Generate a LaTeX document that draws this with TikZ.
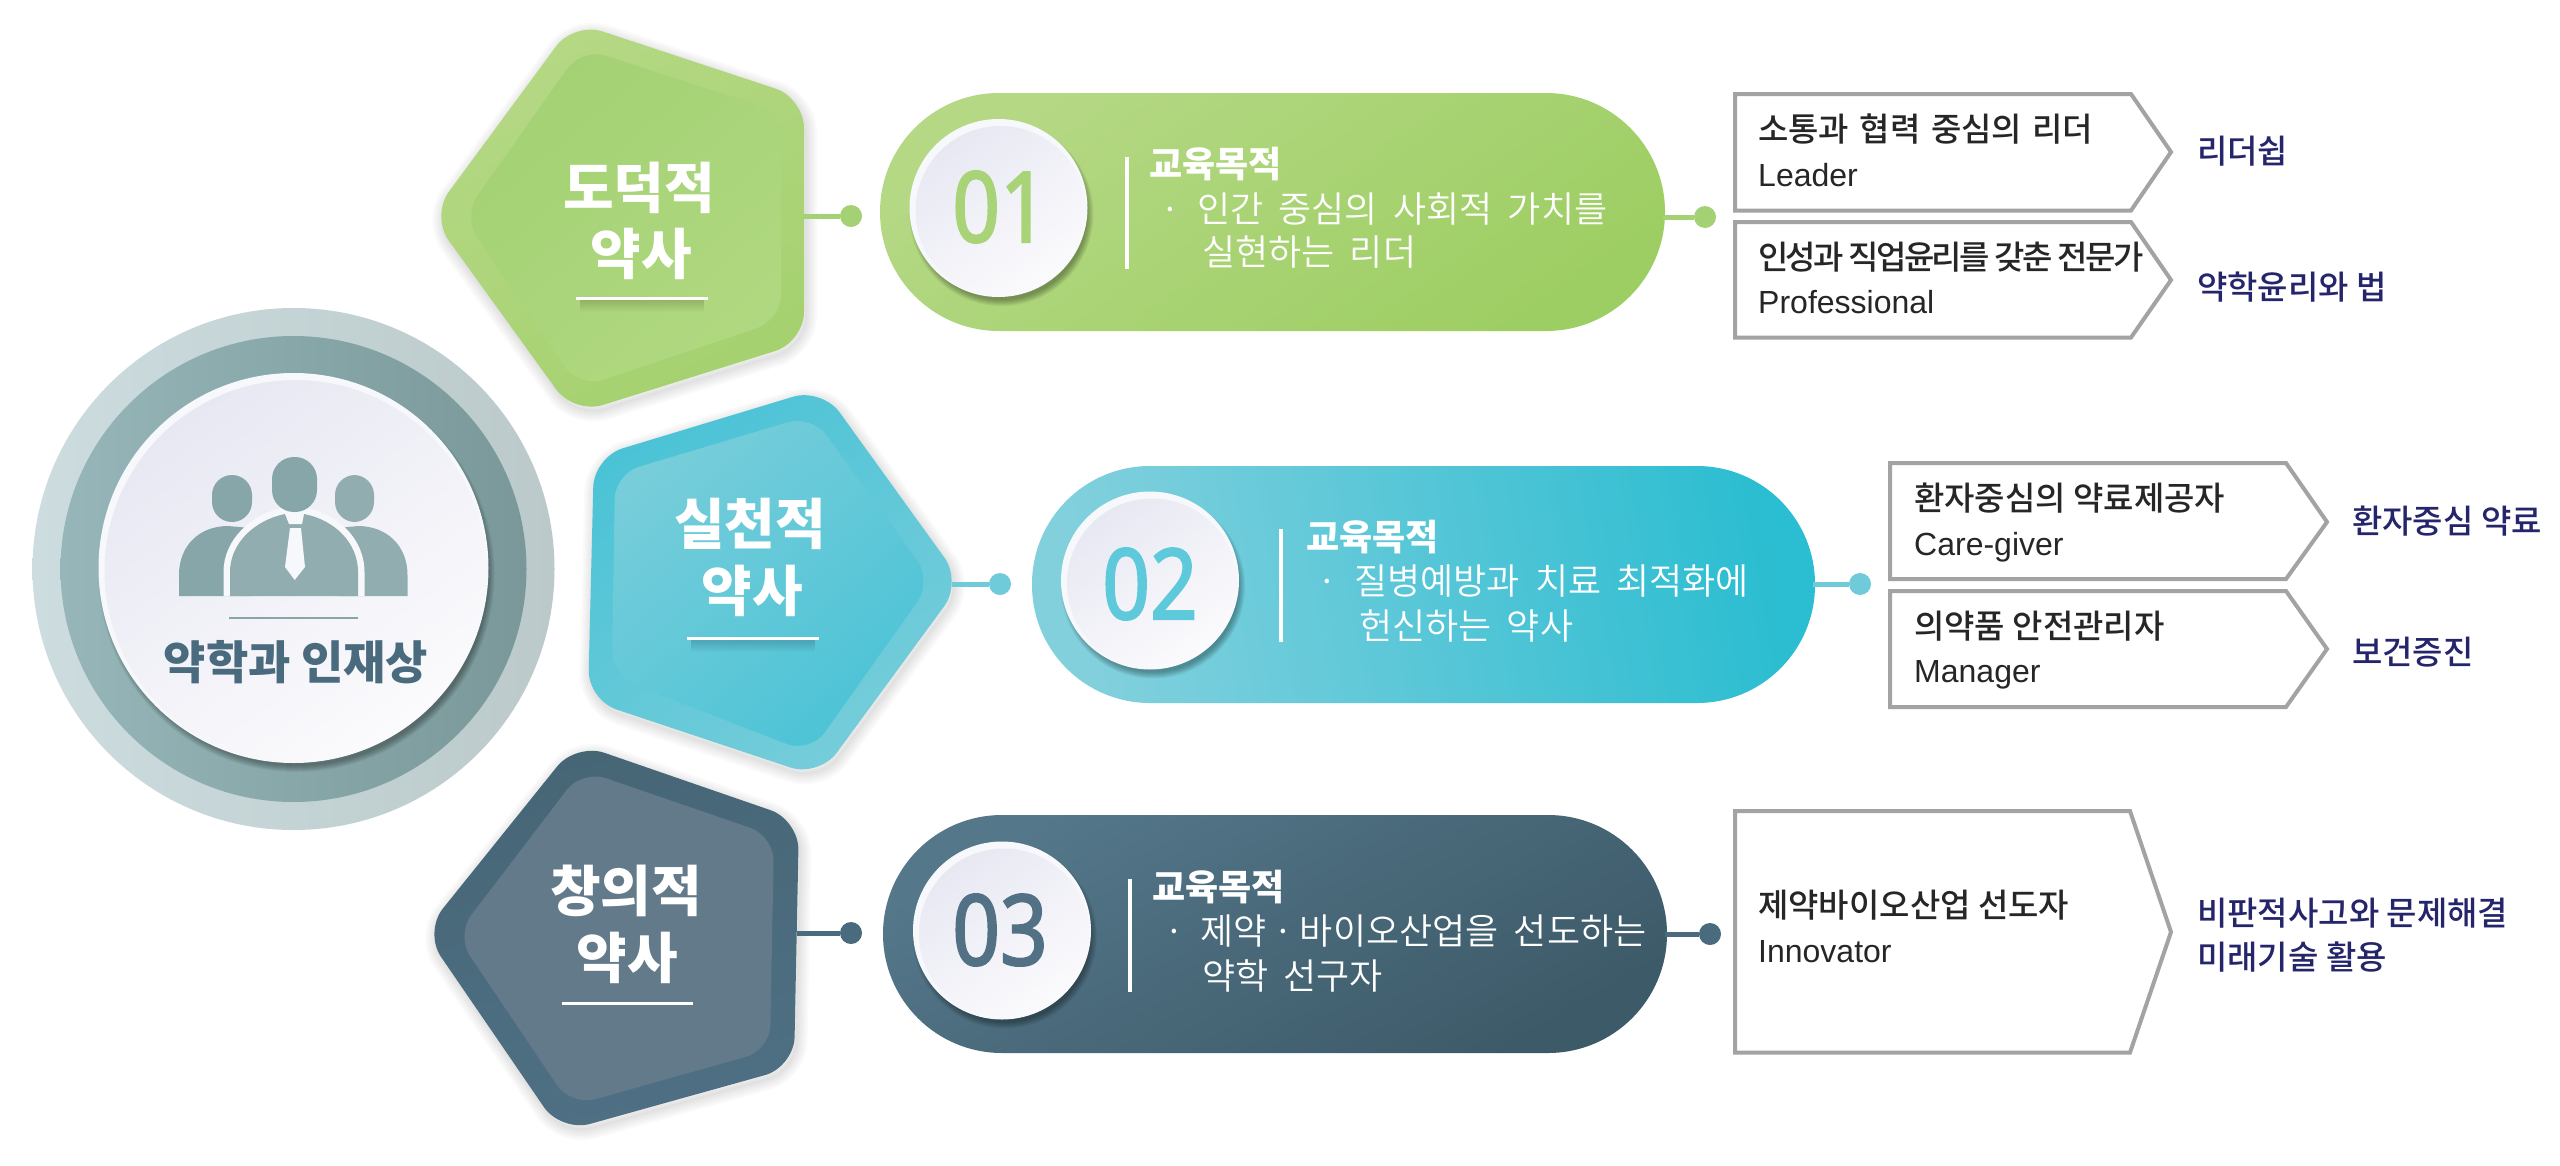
\documentclass[tikz,border=0pt]{standalone}
\usepackage{fontspec}
\setmainfont{Liberation Sans}
\newfontfamily\kr{Noto Sans CJK KR}
\newfontfamily\krmed{Noto Sans CJK KR Medium}
\newfontfamily\krlight[WordSpace=1.9]{Noto Sans CJK KR DemiLight}
\newfontfamily\numfont[FakeStretch=.85,FakeBold=2]{Noto Sans}
\definecolor{gA}{HTML}{A9D377}
\definecolor{tA}{HTML}{6FCBD9}
\definecolor{nA}{HTML}{4A6A7E}
\definecolor{navyt}{HTML}{25256B}
\definecolor{boxg}{HTML}{A3A3A3}
\definecolor{ring}{HTML}{87A6A9}
\definecolor{discrim}{HTML}{F7F8FB}
\definecolor{discA}{HTML}{E8E8F3}
\definecolor{discB}{HTML}{FBFBFD}
\tikzset{
  title/.style={inner sep=0pt,anchor=base,text=white,font={\fontsize{55}{55}\selectfont\kr\bfseries}},
  goal/.style={inner sep=0pt,anchor=base west,text=white,font={\fontsize{36}{36}\selectfont\kr\bfseries}},
  body/.style={inner sep=0pt,anchor=base west,text=white,font={\fontsize{36}{36}\selectfont\krlight}},
  boxkr/.style={inner sep=0pt,anchor=base west,text=black!85,font={\fontsize{33}{33}\selectfont\krmed}},
  boxen/.style={inner sep=0pt,anchor=base west,text=black!85,font={\fontsize{32}{32}\selectfont}},
  skill/.style={inner sep=0pt,anchor=base west,text=navyt,font={\fontsize{33}{33}\selectfont\krmed}},
  numtext/.style={inner sep=0pt,font={\fontsize{98}{98}\selectfont\numfont}},
  arrowbox/.style={draw=boxg,line width=4,fill=white,miter limit=10},
  dotnode/.style={circle,inner sep=0pt,minimum size=22pt},
  conn/.style={line width=5},
}
\newcommand{\softshadow}[3]{\foreach \w in {2,6,10,14,18,22}{\draw[black,opacity=.018,line width=\w,line join=round,shift={(#2,#3)}] #1;}}
\newcommand{\whitedisc}[3]{%
  \foreach \q in {1,...,7}{\fill[black,opacity=.05,shift={(3,6)}] (#1,#2) circle ({#3+4-\q});}
  \fill[discrim] (#1,#2) circle (#3);
  \shade[top color=discA,bottom color=discB,shading angle=35] ({#1+2},{#2+3}) circle ({#3-4});
}
\begin{document}
\begin{tikzpicture}[x=1pt,y=-1pt]
\path[use as bounding box,fill=white] (0,0) rectangle (2560,1165);
% central circle
\coordinate (mainc) at (293.5,569);
\definecolor{rO1}{HTML}{CDDDDF}\definecolor{rO2}{HTML}{BBC9CA}
\definecolor{rM1}{HTML}{96B6B9}\definecolor{rM2}{HTML}{7A9899}
\shade[left color=rO1,right color=rO2] (mainc) circle (261);
\shade[left color=rM1,right color=rM2] (mainc) circle (233);
\whitedisc{293.5}{568}{195}
\fill[ring] (179,596) -- (179,575) .. controls (179,545) and (200,526) .. (228,526) -- (250,528) -- (250,596) -- cycle;
\fill[ring!92!white] (407.5,596) -- (407.5,575) .. controls (407.5,545) and (386,526) .. (358,526) -- (338,528) -- (338,596) -- cycle;
\draw[discrim,line width=13] (230,596) -- (230,572) .. controls (230,543) and (255,520) .. (285,514) -- (304,514) .. controls (335,520) and (358,543) .. (358,572) -- (358,596);
\fill[ring!92!white] (230,596) -- (230,572) .. controls (230,543) and (255,520) .. (285,514) -- (304,514) .. controls (335,520) and (358,543) .. (358,572) -- (358,596) -- cycle;
\fill[discrim] (285,514) -- (304,514) -- (302,524) -- (289,524) -- cycle;
\fill[discrim] (290,528) -- (301,528) -- (305,567) -- (294.7,580) -- (285,567) -- cycle;
\fill[ring,rounded corners=20] (212,475) rectangle (252,522);
\fill[ring!92!white,rounded corners=20] (335,475) rectangle (374,522);
\fill[ring,rounded corners=22] (272,457) rectangle (317,512);
\draw[ring,line width=2.5] (229,618) -- (358,618);
\node[inner sep=0pt,anchor=base,text=nA,font={\fontsize{46}{46}\selectfont\kr\bfseries}] (maintitle) at (296,679) {약학과 인재상};

% ---- row 1
\definecolor{gO1}{HTML}{B5D885}\definecolor{gO2}{HTML}{A5D16F}
\definecolor{gI1}{HTML}{A3D173}\definecolor{gI2}{HTML}{B0D880}
\definecolor{gP2}{HTML}{9DCE63}
\def\pA{[rounded corners=30] (574,22) -- (804,98) -- (804,342) -- (574,414) -- (431,216) -- cycle}
\def\pAi{[rounded corners=25] (582,48) -- (781,113) -- (781,320) -- (579,388) -- (463,216) -- cycle}
\softshadow{\pA}{2}{4}
\shade[top color=gO1,bottom color=gO2,shading angle=30] \pA;
\shade[top color=gI1,bottom color=gI2,shading angle=40] \pAi;
\coordinate (pentAr) at (804,216);
\node[dotnode,fill=gI1] (dotAl) at (851,216) {};
\draw[conn,gI1] (pentAr) -- (dotAl);
\node[title] (tA1) at (639,208) {도덕적};
\node[title] (tA2) at (641,274) {약사};
\foreach \q in {2,...,12}{\fill[black,opacity=.012] (580,300) rectangle (704,{300+\q});}
\draw[white,line width=3] (576,298) -- (708,298);
\shade[top color=gO1,bottom color=gP2,shading angle=35,rounded corners=119] (880,93) rectangle (1665,331);
\whitedisc{998.5}{208}{89}
\node[numtext,text=gA] (numA) at (1000,207) {01};
\draw[white,line width=4] (1127,157) -- (1127,269);
\node[goal] (gA) at (1149,177) {교육목적};
\node[body] (bA1) at (1160,222) {\makebox[37pt][l]{·}인간 중심의 사회적 가치를};
\node[body] (bA2) at (1202,265) {실현하는 리더};
\coordinate (pillAr) at (1663,217);
\node[dotnode,fill=gI1] (dotAr) at (1705,217) {};
\draw[conn,gI1] (pillAr) -- (dotAr);
\draw[arrowbox] (1735,94) -- (2131,94) -- (2171,152) -- (2131,210.5) -- (1735,210.5) -- cycle;
\node[boxkr] (lA1) at (1758,141) {\spaceskip=10.5pt 소통과 협력 중심의 리더};
\node[boxen] (lA1e) at (1758,186) {Leader};
\node[skill] (sA1) at (2197,163) {리더쉽};
\draw[arrowbox] (1735,222) -- (2131,222) -- (2171,280) -- (2131,337.5) -- (1735,337.5) -- cycle;
\node[boxkr] (lA2) at (1758,269) {\addfontfeature{LetterSpace=-8}인성과 직업윤리를 갖춘 전문가};
\node[boxen] (lA2e) at (1758,313) {Professional};
\node[skill] (sA2) at (2197,299) {약학윤리와 법};

% ---- row 2
\definecolor{tO1}{HTML}{4BC3D6}\definecolor{tO2}{HTML}{77CDDA}
\definecolor{tP1}{HTML}{83D0DD}\definecolor{tP2}{HTML}{2BBDD1}
\def\pB{[rounded corners=30] (822,388) -- (962,582) -- (819,777) -- (588,700) -- (594,457) -- cycle}
\def\pBi{[rounded corners=25] (812,415) -- (932,581) -- (810,753) -- (612,676) -- (615,474) -- cycle}
\softshadow{\pB}{2}{4}
\shade[top color=tO1,bottom color=tO2,shading angle=35] \pB;
\shade[top color=tO2,bottom color=tO1,shading angle=40] \pBi;
\coordinate (pentBr) at (952,584);
\node[dotnode,fill=tA] (dotBl) at (1000,584) {};
\draw[conn,tA] (pentBr) -- (dotBl);
\node[title] (tB1) at (750,544) {실천적};
\node[title] (tB2) at (752,611) {약사};
\foreach \q in {2,...,12}{\fill[black,opacity=.012] (691,640) rectangle (815,{640+\q});}
\draw[white,line width=3] (687,638) -- (819,638);
\shade[left color=tP1,right color=tP2,shading angle=100,rounded corners=118] (1032,466) rectangle (1815,703);
\whitedisc{1150}{580.5}{89}
\node[numtext,text=tO1!90!white] (numB) at (1150,584) {02};
\draw[white,line width=4] (1280.5,529) -- (1280.5,642);
\node[goal] (gB) at (1306,550) {교육목적};
\node[body] (bB1) at (1317,594) {\makebox[37pt][l]{·}질병예방과 치료 최적화에};
\node[body] (bB2) at (1359,639) {헌신하는 약사};
\coordinate (pillBr) at (1813,584);
\node[dotnode,fill=tA] (dotBr) at (1860,584) {};
\draw[conn,tA] (pillBr) -- (dotBr);
\draw[arrowbox] (1890,463) -- (2286,463) -- (2327,522) -- (2286,579) -- (1890,579) -- cycle;
\node[boxkr] (lB1) at (1914,510) {환자중심의 약료제공자};
\node[boxen] (lB1e) at (1914,555) {Care-giver};
\node[skill] (sB1) at (2352,533) {환자중심 약료};
\draw[arrowbox] (1890,591) -- (2286,591) -- (2327,649) -- (2286,707) -- (1890,707) -- cycle;
\node[boxkr] (lB2) at (1914,638) {의약품 안전관리자};
\node[boxen] (lB2e) at (1914,682) {Manager};
\node[skill] (sB2) at (2352,664) {보건증진};

% ---- row 3
\definecolor{nO1}{HTML}{466676}\definecolor{nO2}{HTML}{4F7084}
\definecolor{nI}{HTML}{637A8A}
\definecolor{nP1}{HTML}{54778A}\definecolor{nP2}{HTML}{3D5A68}
\def\pC{[rounded corners=30] (576,743) -- (799,820) -- (794,1067) -- (561,1132) -- (424,932) -- cycle}
\def\pCi{[rounded corners=25] (582,770) -- (774,836) -- (770,1050) -- (571,1106) -- (456,935) -- cycle}
\softshadow{\pC}{2}{4}
\shade[top color=nO1,bottom color=nO2,shading angle=10] \pC;
\fill[nI] \pCi;
\coordinate (pentCr) at (797,933);
\node[dotnode,fill=nA] (dotCl) at (851,933) {};
\draw[conn,nA] (pentCr) -- (dotCl);
\node[title] (tC1) at (626,911) {창의적};
\node[title] (tC2) at (627,978) {약사};
\draw[white,line width=3] (562,1003) -- (693,1003);
\shade[top color=nP1,bottom color=nP2,shading angle=30,rounded corners=119] (883,815) rectangle (1667,1053);
\whitedisc{1002}{930.5}{89}
\node[numtext,text=nA!95!white] (numC) at (1000,930) {03};
\draw[white,line width=4] (1129.5,879) -- (1129.5,992);
\node[goal] (gC) at (1152,900) {교육목적};
\node[body] (bC1) at (1164,944) {\makebox[36pt][l]{·}제약\hspace{-8.5pt} · \hspace{-8.5pt}바이오산업을 선도하는};
\node[body] (bC2) at (1202,989) {약학 선구자};
\coordinate (pillCr) at (1665,934);
\node[dotnode,fill=nA] (dotCr) at (1710,934) {};
\draw[conn,nA] (pillCr) -- (dotCr);
\draw[arrowbox] (1735,811) -- (2130,811) -- (2171,932) -- (2130,1052.5) -- (1735,1052.5) -- cycle;
\node[boxkr] (lC1) at (1758,917) {제약바이오산업 선도자};
\node[boxen] (lC1e) at (1758,962) {Innovator};
\node[skill] (sC1) at (2197,925) {비판적사고와 문제해결};
\node[skill] (sC2) at (2197,969) {미래기술 활용};
\end{tikzpicture}
\end{document}
